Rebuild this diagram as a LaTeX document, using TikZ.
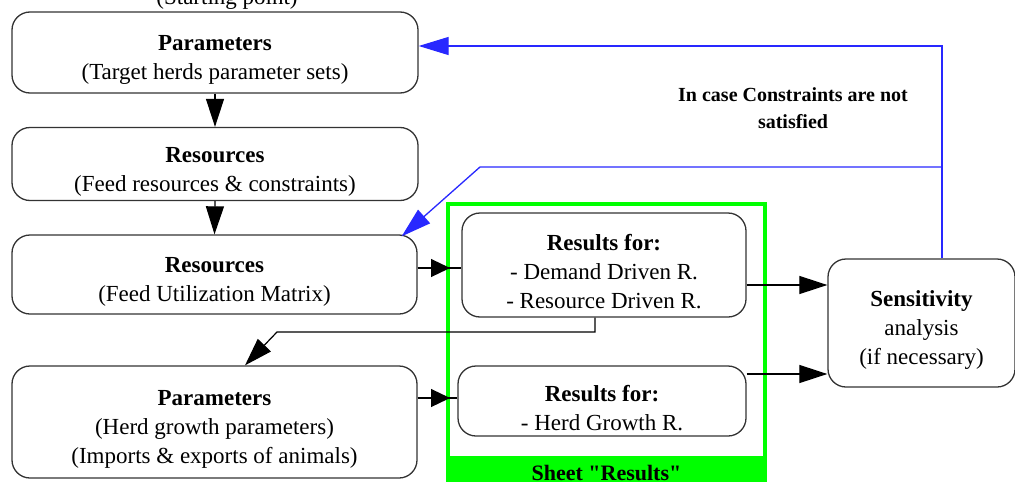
\documentclass[tikz,border=0pt]{standalone}
\usepackage{fontspec}
\setmainfont{Liberation Serif}
\newfontfamily\plainqf{Liberation Serif}
\usetikzlibrary{arrows.meta}
\definecolor{fblue}{RGB}{40,40,255}
\definecolor{fgreen}{RGB}{0,255,0}
\newcommand\hd[1]{\rule{0pt}{30pt}\textbf{#1}}
\tikzset{
  box/.style={draw=black!80, line width=1.3pt, rounded corners=18pt, align=center, inner sep=0pt,
    font=\fontsize{23}{29}\selectfont},
  blk/.style={draw=black, line width=1.2pt, -{Triangle[length=28pt,width=18pt]}},
  blks/.style={draw=black, line width=1.2pt, -{Triangle[length=19pt,width=18pt]}},
  bl/.style={draw=fblue, line width=1.3pt, -{Triangle[length=30pt,width=18pt]}},
  lbl/.style={align=center, inner sep=0pt, font=\fontsize{20}{27}\selectfont},
}
\begin{document}
\begin{tikzpicture}[x=1pt,y=-1pt]
\useasboundingbox (0,0) rectangle (1015,482);
% green sheet
\node[draw=fgreen, line width=4pt, minimum width=317pt, minimum height=300pt, inner sep=0pt] (sheet) at (606.5,354) {};
\fill[fgreen] (448,456) rectangle (765,490);
\node[lbl, font=\fontsize{22}{27}\plainqf\bfseries] (sheetlbl) at (606.5,473) {Sheet "Results"};
% start label
\node[lbl, font=\fontsize{23}{27}\selectfont] (start) at (227,-1) {(Starting point)};
% boxes
\node[box, minimum width=406pt, minimum height=81pt] (P1) at (215,52.5) {\hd{Parameters}\\(Target herds parameter sets)};
\node[box, minimum width=406pt, minimum height=73pt] (R1) at (215,164) {\hd{Resources}\\(Feed resources \& constraints)};
\node[box, minimum width=405pt, minimum height=79pt] (R2) at (214.5,274.5) {\hd{Resources}\\(Feed Utilization Matrix)};
\node[box, minimum width=405pt, minimum height=112pt] (P2) at (214.5,422) {\hd{Parameters}\\(Herd growth parameters)\\(Imports \& exports of animals)};
\node[box, minimum width=284pt, minimum height=104pt] (Res1) at (604,265) {\hd{Results for:}\\- Demand Driven R.\\- Resource Driven R.};
\node[box, minimum width=288pt, minimum height=70pt] (Res2) at (602,401) {\hd{Results for:}\\- Herd Growth R.};
\node[box, minimum width=187pt, minimum height=128pt] (Sens) at (921.5,323) {\hd{Sensitivity}\\analysis\\(if necessary)};
\node[lbl, font=\fontsize{20}{27}\selectfont\bfseries] (note) at (793,108) {In case Constraints are not\\satisfied};
% black connectors
\draw[blk] (P1.south) -- (R1.north);
\draw[blk] (R1.south) -- (R2.north);
\coordinate (a1) at (450,268);
\draw[line width=1.2pt] (R2.east |- a1) -- (Res1.west |- a1);
\draw[blks] (R2.east |- a1) -- (a1);
\coordinate (a2) at (450,398);
\draw[line width=1.2pt] (P2.east |- a2) -- (Res2.west |- a2);
\draw[blks] (P2.east |- a2) -- (a2);
\coordinate (c1) at (595,332);
\coordinate (c2) at (277,332);
\coordinate (c3) at (245,366);
\draw[blk] (Res1.south -| c1) -- (c1) -- (c2) -- (P2.north -| c3);
\coordinate (s1) at (828,285);
\coordinate (s2) at (828,374);
\draw[blk] (Res1.east |- s1) -- (Sens.west |- s1);
\draw[blk] (Res2.east |- s2) -- (Sens.west |- s2);
% blue feedback
\coordinate (b1) at (942,46);
\coordinate (b2) at (942,167);
\coordinate (b3) at (480,167);
\coordinate (r2tip) at ([xshift=-16pt,yshift=-2pt]R2.north east);
\draw[bl] (Sens.north -| b1) -- (b1) -- (P1.east |- b1);
\draw[bl] (b2) -- (b3) -- (r2tip);
\end{tikzpicture}
\end{document}
